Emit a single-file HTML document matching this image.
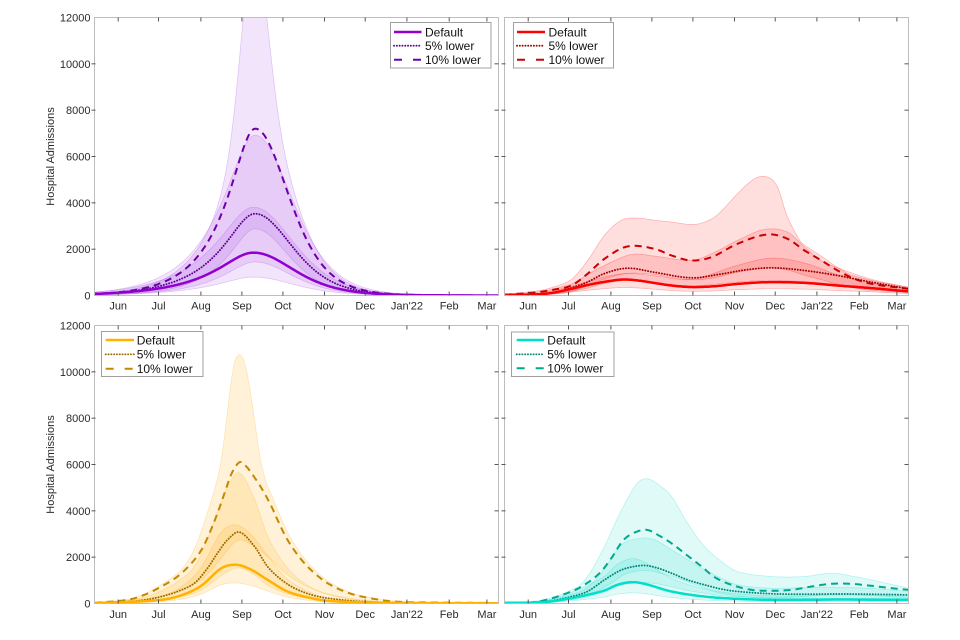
<!DOCTYPE html>
<html><head><meta charset="utf-8"><style>
html,body{margin:0;padding:0;background:#fff;}
svg{display:block;font-family:"Liberation Sans",Arial,sans-serif;}
</style></head><body>
<svg width="960" height="640" viewBox="0 0 960 640" xmlns="http://www.w3.org/2000/svg">
<rect x="0" y="0" width="960" height="640" fill="#fff"/>
<g id="curves"></g>
<g id="axes" fill="none" stroke="#bdbdbd" stroke-width="1">
<rect x="94.5" y="17.5" width="404" height="278"/>
<rect x="504.5" y="17.5" width="404" height="278"/>
<rect x="94.5" y="325.5" width="404" height="278"/>
<rect x="504.5" y="325.5" width="404" height="278"/>
</g>
<g id="ticks" stroke="#555" stroke-width="1"></g>
<g font-size="11" fill="#2a2a2a" text-anchor="end">
<text x="90.5" y="21.5">12000</text><text x="90.5" y="67.8">10000</text><text x="90.5" y="114.2">8000</text><text x="90.5" y="160.5">6000</text><text x="90.5" y="206.8">4000</text><text x="90.5" y="253.2">2000</text><text x="90.5" y="299.5">0</text>
<text x="90.5" y="329.5">12000</text><text x="90.5" y="375.8">10000</text><text x="90.5" y="422.2">8000</text><text x="90.5" y="468.5">6000</text><text x="90.5" y="514.8">4000</text><text x="90.5" y="561.2">2000</text><text x="90.5" y="607.5">0</text>
</g>
<g font-size="11" fill="#2a2a2a" text-anchor="middle">
<text x="118.2" y="309.5">Jun</text><text x="158.5" y="309.5">Jul</text><text x="200.9" y="309.5">Aug</text><text x="241.9" y="309.5">Sep</text><text x="282.9" y="309.5">Oct</text><text x="324.5" y="309.5">Nov</text><text x="365.2" y="309.5">Dec</text><text x="406.9" y="309.5">Jan'22</text><text x="449.2" y="309.5">Feb</text><text x="486.9" y="309.5">Mar</text>
<text x="528.2" y="309.5">Jun</text><text x="568.5" y="309.5">Jul</text><text x="610.9" y="309.5">Aug</text><text x="651.9" y="309.5">Sep</text><text x="692.9" y="309.5">Oct</text><text x="734.5" y="309.5">Nov</text><text x="775.2" y="309.5">Dec</text><text x="816.9" y="309.5">Jan'22</text><text x="859.2" y="309.5">Feb</text><text x="896.9" y="309.5">Mar</text>
<text x="118.2" y="618.2">Jun</text><text x="158.5" y="618.2">Jul</text><text x="200.9" y="618.2">Aug</text><text x="241.9" y="618.2">Sep</text><text x="282.9" y="618.2">Oct</text><text x="324.5" y="618.2">Nov</text><text x="365.2" y="618.2">Dec</text><text x="406.9" y="618.2">Jan'22</text><text x="449.2" y="618.2">Feb</text><text x="486.9" y="618.2">Mar</text>
<text x="528.2" y="618.2">Jun</text><text x="568.5" y="618.2">Jul</text><text x="610.9" y="618.2">Aug</text><text x="651.9" y="618.2">Sep</text><text x="692.9" y="618.2">Oct</text><text x="734.5" y="618.2">Nov</text><text x="775.2" y="618.2">Dec</text><text x="816.9" y="618.2">Jan'22</text><text x="859.2" y="618.2">Feb</text><text x="896.9" y="618.2">Mar</text>
</g>
<g font-size="11" fill="#2a2a2a" text-anchor="middle">
<text transform="translate(54,156.5) rotate(-90)">Hospital Admissions</text>
<text transform="translate(54,464.5) rotate(-90)">Hospital Admissions</text>
</g>
<!-- legends -->
<g font-size="12" fill="#111">
<rect x="390.5" y="22.5" width="100.5" height="45.5" fill="#fff" stroke="#a0a0a0"/>
<line x1="394" y1="32" x2="421.5" y2="32" stroke="#9000d0" stroke-width="2.5"/>
<line x1="394" y1="45.7" x2="421.5" y2="45.7" stroke="#5c0090" stroke-width="1.9" stroke-dasharray="0.1,2.7" stroke-linecap="round"/>
<line x1="394" y1="59.7" x2="421.5" y2="59.7" stroke="#6e00aa" stroke-width="2" stroke-dasharray="8,11"/>
<text x="425" y="36.3">Default</text><text x="425" y="50">5% lower</text><text x="425" y="64">10% lower</text>

<rect x="513.5" y="22.5" width="100" height="45.5" fill="#fff" stroke="#a0a0a0"/>
<line x1="517" y1="32" x2="545" y2="32" stroke="#ff0000" stroke-width="2.5"/>
<line x1="517" y1="45.7" x2="545" y2="45.7" stroke="#a00000" stroke-width="1.9" stroke-dasharray="0.1,2.7" stroke-linecap="round"/>
<line x1="517" y1="59.7" x2="545" y2="59.7" stroke="#cc0000" stroke-width="2" stroke-dasharray="8,11"/>
<text x="548.5" y="36.3">Default</text><text x="548.5" y="50">5% lower</text><text x="548.5" y="64">10% lower</text>

<rect x="101.5" y="331.5" width="101.5" height="45" fill="#fff" stroke="#a0a0a0"/>
<line x1="105.7" y1="340" x2="134" y2="340" stroke="#ffb300" stroke-width="2.5"/>
<line x1="105.7" y1="354.3" x2="134" y2="354.3" stroke="#9a6a00" stroke-width="1.9" stroke-dasharray="0.1,2.7" stroke-linecap="round"/>
<line x1="105.7" y1="368.7" x2="134" y2="368.7" stroke="#c08a00" stroke-width="2" stroke-dasharray="8,11"/>
<text x="136.7" y="344.3">Default</text><text x="136.7" y="358.6">5% lower</text><text x="136.7" y="373">10% lower</text>

<rect x="511.5" y="332" width="102.5" height="44.5" fill="#fff" stroke="#a0a0a0"/>
<line x1="516.7" y1="340" x2="544" y2="340" stroke="#00e0c8" stroke-width="2.5"/>
<line x1="516.7" y1="354.3" x2="544" y2="354.3" stroke="#008878" stroke-width="1.9" stroke-dasharray="0.1,2.7" stroke-linecap="round"/>
<line x1="516.7" y1="368.3" x2="544" y2="368.3" stroke="#00a890" stroke-width="2" stroke-dasharray="8,11"/>
<text x="547.3" y="344.3">Default</text><text x="547.3" y="358.6">5% lower</text><text x="547.3" y="372.6">10% lower</text>
</g>
</svg>
<script>
(function(){
var NS="http://www.w3.org/2000/svg",W=404,H=278;
var g=document.getElementById('curves');
var tg=document.getElementById('ticks');
function spline(p){
  var n=p.length,xs=p.map(function(a){return a[0];}),ys=p.map(function(a){return a[1];}),m=[];
  for(var i=0;i<n;i++){
    if(i==0)m.push((ys[1]-ys[0])/(xs[1]-xs[0]));
    else if(i==n-1)m.push((ys[n-1]-ys[n-2])/(xs[n-1]-xs[n-2]));
    else m.push((ys[i+1]-ys[i-1])/(xs[i+1]-xs[i-1]));
  }
  return function(x){
    if(x<=xs[0])return ys[0];
    if(x>=xs[n-1])return ys[n-1];
    var i=0;while(x>xs[i+1])i++;
    var h=xs[i+1]-xs[i],t=(x-xs[i])/h,t2=t*t,t3=t2*t;
    return (2*t3-3*t2+1)*ys[i]+(t3-2*t2+t)*h*m[i]+(-2*t3+3*t2)*ys[i+1]+(t3-t2)*h*m[i+1];
  };
}
function pk(c,A,wl,pl,wr,pr){return function(x){var d=x-c;if(d<0)return A/Math.pow(Math.cosh(d/wl),pl);return A/Math.pow(Math.cosh(d/wr),pr);};}
function samp(f){var a=[];for(var x=0;x<=W;x++)a.push(Math.max(0,f(x)));return a;}
function S(p){return samp(spline(p));}
function mul(a,k){return a.map(function(v,i){return v*(typeof k==='function'?k(i):k);});}
function mx(a,b){return a.map(function(v,i){return Math.max(v,b[i]);});}
function pts(P,a){return a.map(function(v,i){return (P.L+i).toFixed(1)+','+(P.T+H-v*H/12000).toFixed(1);});}
var cid=0;
function draw(P){
  cid++;
  var cp=document.createElementNS(NS,'clipPath');cp.setAttribute('id','cp'+cid);
  var r=document.createElementNS(NS,'rect');r.setAttribute('x',P.L);r.setAttribute('y',P.T);r.setAttribute('width',W);r.setAttribute('height',H);
  cp.appendChild(r);g.appendChild(cp);
  var gg=document.createElementNS(NS,'g');gg.setAttribute('clip-path','url(#cp'+cid+')');g.appendChild(gg);
  P.bands.forEach(function(b){
    var up=pts(P,b[1]),lo=pts(P,b[0]).reverse();
    var e=document.createElementNS(NS,'path');
    e.setAttribute('d','M'+up.join('L')+'L'+lo.join('L')+'Z');
    e.setAttribute('fill',P.fill);e.setAttribute('fill-opacity',P.fo);
    e.setAttribute('stroke',P.fill);e.setAttribute('stroke-opacity',0.28);e.setAttribute('stroke-width',0.7);
    gg.appendChild(e);
  });
  var L=[[P.dash,P.cDash,2,'7,5'],[P.dot,P.cDot,1.9,'0.1,2.7'],[P.solid,P.cSolid,2.5,null]];
  L.forEach(function(l){
    var e=document.createElementNS(NS,'path');
    e.setAttribute('d','M'+pts(P,l[0]).join('L'));
    e.setAttribute('fill','none');e.setAttribute('stroke',l[1]);e.setAttribute('stroke-width',l[2]);
    e.setAttribute('stroke-linejoin','round');
    if(l[3]){e.setAttribute('stroke-dasharray',l[3]);}
    if(l[3]==='0.1,2.7')e.setAttribute('stroke-linecap','round');
    gg.appendChild(e);
  });
  var xt=[23.7,64,106.4,147.4,188.4,230,270.7,312.4,354.7,392.4];
  xt.forEach(function(x){
    addT(P.L+x,P.T,P.L+x,P.T+4);addT(P.L+x,P.T+H,P.L+x,P.T+H-4);
  });
  for(var k=1;k<6;k++){var y=P.T+k*H/6;addT(P.L-3,y,P.L+1,y);addT(P.L+W-4,y,P.L+W,y);}
}
function addT(x1,y1,x2,y2){var e=document.createElementNS(NS,'line');e.setAttribute('x1',x1);e.setAttribute('y1',y1);e.setAttribute('x2',x2);e.setAttribute('y2',y2);tg.appendChild(e);}

/* Purple */
var ps=samp(pk(159,1850,22,0.5,54,2)),pd=samp(pk(160.5,3530,19,0.5,50,2)),pD=samp(pk(160.7,7200,16,0.5,45,2));
draw({L:94.5,T:17.5,fill:'#a040e0',fo:0.14,cSolid:'#9000d0',cDot:'#5c0090',cDash:'#6e00aa',
 solid:ps,dot:pd,dash:pD,
 bands:[[mul(ps,0.43),mul(ps,2.06)],[mul(pd,0.41),mul(pd,1.96)],[mul(pD,0.4),mul(pD,function(i){return 1.2+0.9*Math.exp(-Math.pow((i-159)/20,2));})]]});

/* Red */
var rs=S([[0,30],[33,50],[50,130],[67,290],[83,450],[100,590],[118,690],[133,650],[150,540],[167,430],[187,365],[210,400],[233,500],[263,576],[300,545],[333,430],[367,317],[404,175]]);
var rd=S([[0,30],[33,60],[50,130],[67,330],[83,580],[100,950],[123,1180],[150,1000],[187,763],[217,930],[240,1100],[267,1195],[300,1080],[333,864],[367,576],[404,288]]);
var rD=S([[0,30],[33,144],[50,260],[67,432],[83,936],[100,1584],[123,2117],[150,2016],[167,1728],[187,1512],[207,1656],[233,2232],[263,2635],[283,2448],[300,1944],[317,1512],[333,1080],[350,720],[367,504],[404,288]]);
var rOut=S([[0,40],[33,200],[50,380],[67,700],[83,1500],[100,2600],[117,3250],[133,3340],[150,3250],[167,3170],[190,3067],[207,3300],[217,3650],[233,4390],[250,5040],[263,5112],[273,4680],[283,3384],[300,2088],[317,1450],[333,1080],[367,650],[404,360]]);
var r5=S([[0,35],[33,150],[67,500],[83,900],[100,1300],[127,1771],[150,1700],[187,1512],[207,1800],[233,2376],[260,2851],[283,2736],[300,2088],[317,1500],[333,1200],[367,700],[404,350]]);
var rDef=S([[0,35],[33,80],[67,400],[100,800],[123,950],[150,850],[187,700],[233,1300],[267,1613],[300,1400],[333,900],[367,550],[404,280]]);
draw({L:504.5,T:17.5,fill:'#ff0000',fo:0.13,cSolid:'#ff0000',cDot:'#a00000',cDash:'#cc0000',
 solid:rs,dot:rd,dash:rD,
 bands:[[mul(rs,0.5),mx(rDef,mul(rs,1.2))],[mul(rd,0.55),mx(r5,mul(rd,1.15))],[mul(rD,0.45),mx(rOut,mul(rD,1.12))]]});

/* Yellow */
var ys=S([[0,20],[33,60],[67,158],[83,302],[100,590],[110,878],[127,1525],[142,1670],[157,1453],[173,1022],[193,518],[217,230],[233,115],[267,50],[300,25],[404,10]]);
var yd=S([[0,30],[33,80],[50,150],[67,300],[83,518],[100,878],[113,1525],[123,2173],[133,2750],[145,3080],[160,2460],[173,1597],[187,1022],[200,662],[217,374],[233,230],[267,86],[300,40],[404,15]]);
var yD=S([[0,30],[33,158],[50,374],[67,734],[83,1166],[97,1741],[107,2317],[115,3036],[123,3900],[130,4760],[137,5600],[145,6100],[151,5950],[157,5626],[167,4979],[177,4187],[183,3612],[193,2748],[207,1885],[220,1309],[233,878],[250,518],[267,302],[300,86],[350,40],[404,20]]);
var yOut=S([[0,25],[30,70],[50,220],[73,878],[97,2100],[115,4200],[126,6000],[132,7930],[136,9370],[140,10400],[145,10735],[150,10400],[155,9370],[160,7930],[167,6000],[182,3986],[207,2000],[233,900],[267,330],[300,110],[350,50],[404,20]]);
draw({L:94.5,T:325.5,fill:'#ffaa00',fo:0.15,cSolid:'#ffb300',cDot:'#9a6a00',cDash:'#c08a00',
 solid:ys,dot:yd,dash:yD,
 bands:[[mul(ys,0.53),mul(ys,2.03)],[mul(yd,0.5),mul(yd,1.83)],[mul(yD,0.45),mx(yOut,mul(yD,1.12))]]});

/* Cyan */
var cs=S([[0,25],[40,60],[67,230],[83,374],[100,560],[113,806],[127,920],[140,850],[167,518],[200,300],[233,200],[267,158],[300,158],[333,172],[367,165],[404,158]]);
var cd=S([[0,30],[40,80],[67,300],[83,520],[100,1020],[117,1450],[137,1640],[150,1570],[167,1310],[183,1020],[200,806],[217,620],[233,520],[267,420],[300,400],[333,410],[367,400],[404,374]]);
var cD=S([[0,30],[33,80],[67,518],[85,950],[97,1400],[108,2030],[118,2690],[128,3020],[142,3180],[155,2920],[167,2600],[182,2100],[197,1600],[210,1140],[227,806],[247,590],[267,550],[287,590],[307,734],[327,850],[347,850],[367,763],[387,660],[404,590]]);
var cOut=S([[0,35],[33,120],[50,250],[67,500],[83,1165],[100,2460],[117,4040],[133,5200],[143,5380],[155,5100],[167,4620],[183,3470],[200,2460],[217,1810],[233,1380],[267,1165],[300,1165],[327,1310],[350,1165],[367,1020],[404,660]]);
var c5=S([[0,30],[33,90],[67,400],[83,700],[100,1500],[117,2530],[137,2820],[150,2750],[167,2320],[183,1890],[200,1450],[217,1090],[233,806],[267,660],[300,690],[333,700],[367,650],[404,518]]);
draw({L:504.5,T:325.5,fill:'#00d8c8',fo:0.12,cSolid:'#00e0c8',cDot:'#008878',cDash:'#00a890',
 solid:cs,dot:cd,dash:cD,
 bands:[[mul(cs,0.5),mul(cs,2.1)],[mul(cd,0.55),mx(c5,mul(cd,1.2))],[mul(cD,0.45),mx(cOut,mul(cD,1.12))]]});
})();
</script>
</body></html>
